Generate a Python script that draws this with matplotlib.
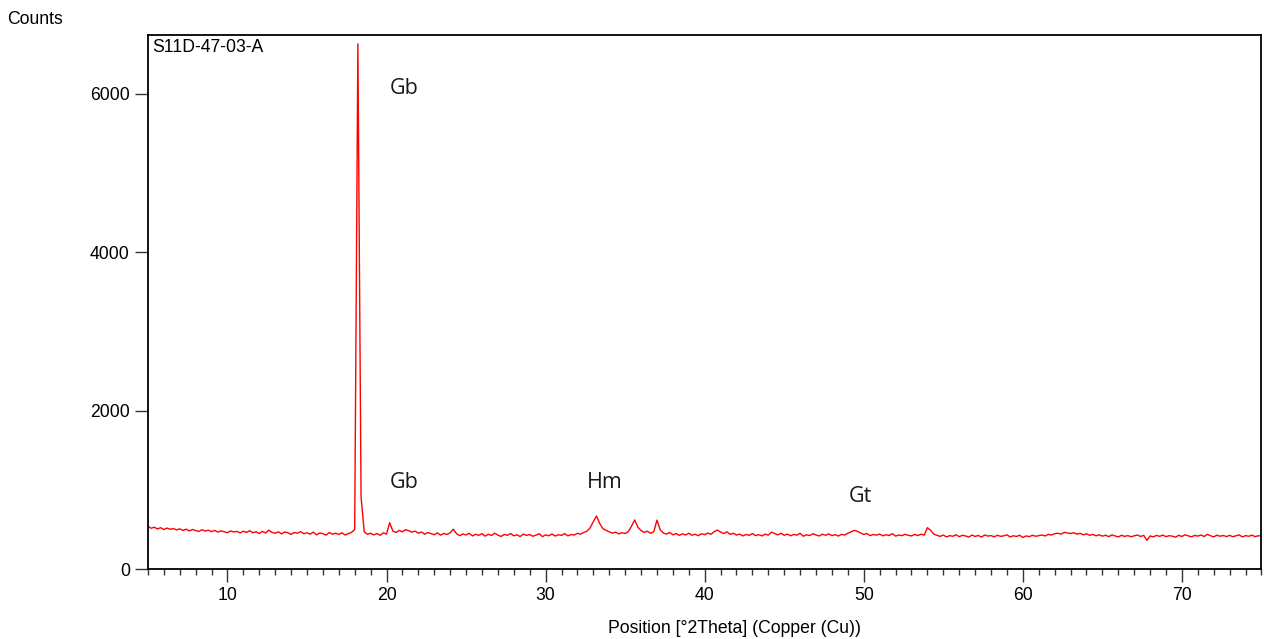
import numpy as np
import matplotlib.pyplot as plt
from matplotlib.ticker import MultipleLocator

plt.rcParams['font.family'] = ['Liberation Sans', 'DejaVu Sans']

# scan settings (2Theta, Cu) and counts, one value per step
start_2theta = 5.0
step_2theta = 0.2
counts = [
    540, 515, 528, 506, 522, 498, 517, 502, 511, 494,
    508, 488, 503, 481, 499, 486, 474, 496, 479, 490,
    472, 488, 466, 482, 470, 459, 481, 468, 475, 456,
    478, 462, 484, 458, 471, 449, 476, 455, 490, 463,
    452, 470, 444, 468, 458, 437, 462, 451, 473, 446,
    458, 440, 466, 432, 455, 447, 428, 461, 439, 452,
    436, 458, 429, 447, 462, 500, 6630, 910, 470, 438,
    452, 431, 448, 426, 457, 441, 585, 478, 462, 488,
    470, 497, 483, 466, 479, 452, 468, 439, 461, 447,
    433, 456, 428, 449, 437, 458, 502, 447, 421, 443,
    430, 451, 418, 438, 426, 447, 415, 440, 423, 452,
    429, 411, 437, 426, 448, 419, 433, 410, 441, 425,
    436, 414, 428, 446, 409, 431, 420, 442, 416, 433,
    425, 447, 418, 436, 429, 451, 440, 462, 478, 520,
    598, 670, 575, 512, 488, 470, 452, 466, 443, 459,
    448, 472, 541, 620, 528, 486, 462, 478, 451, 470,
    618, 498, 455, 441, 463, 432, 448, 425, 444, 430,
    452, 427, 439, 421, 446, 433, 455, 438, 472, 492,
    466, 448, 470, 437, 452, 429, 441, 418, 436, 425,
    447, 422, 434, 418, 440, 428, 466, 449, 431, 452,
    426, 441, 419, 437, 428, 450, 414, 432, 423, 445,
    430, 417, 439, 426, 444, 421, 435, 416, 438, 429,
    452, 470, 488, 476, 455, 437, 448, 422, 436, 428,
    441, 419, 433, 424, 446, 415, 430, 421, 438, 426,
    418, 437, 422, 440, 428, 522, 489, 441, 427, 412,
    428, 406, 421, 414, 432, 409, 425, 418, 403, 429,
    411, 424, 402, 430, 416, 422, 407, 426, 413, 419,
    432, 405, 420, 411, 427, 398, 418, 409, 426, 414,
    421, 430, 417, 438, 429, 446, 452, 441, 463, 455,
    448, 459, 440, 451, 432, 444, 426, 437, 419, 432,
    415, 427, 409, 431, 418, 405, 426, 412, 422, 408,
    419, 430, 411, 425, 362, 418, 406, 424, 413, 428,
    409, 421, 415, 402, 426, 411, 433, 418, 407, 424,
    416, 429, 411, 438, 420, 406, 427, 414, 423, 410,
    425, 408, 419, 431, 405, 422, 413, 428, 409, 420,
    417,
]
two_theta = start_2theta + step_2theta * np.arange(len(counts))

# phase labels: Gb = gibbsite, Hm = hematite, Gt = goethite
phase_names = ['Gb', 'Gb', 'Hm', 'Gt']
phase_x = [21.1, 21.1, 33.7, 49.8]
phase_y = [6070, 1090, 1090, 920]

sample_name = 'S11D-47-03-A'

fig = plt.figure(figsize=(12.64, 6.39), dpi=100)
ax = fig.add_axes([0.117, 0.1095, 0.881, 0.8355])

ax.plot(two_theta, counts, color='#ff0000', lw=1.0)

for name, px, py in zip(phase_names, phase_x, phase_y):
    ax.text(px, py, name, family='Open Sans', fontsize=15.5, color='#1a1a1a',
            ha='center', va='center')

ax.text(0.004, 0.993, sample_name, transform=ax.transAxes, ha='left', va='top',
        fontsize=12.7)

ax.set_xlim(5, 75)
ax.set_ylim(0, 6740)
ax.xaxis.set_major_locator(MultipleLocator(10))
ax.xaxis.set_minor_locator(MultipleLocator(1))
ax.set_yticks([0, 2000, 4000, 6000])
ax.tick_params(axis='both', which='major', direction='out', length=9.5, width=1,
               labelsize=12.7, color='#333333')
ax.tick_params(axis='x', which='minor', direction='out', length=4.5, width=1,
               color='#333333')
for sp in ax.spines.values():
    sp.set_linewidth(1.3)

fig.text(0.006, 0.969, 'Counts', ha='left', va='center', fontsize=12.7)
fig.text(0.481, 0.016, 'Position [°2Theta] (Copper (Cu))', ha='left',
         va='center', fontsize=12.7)

fig.savefig('out.png', dpi=100)
